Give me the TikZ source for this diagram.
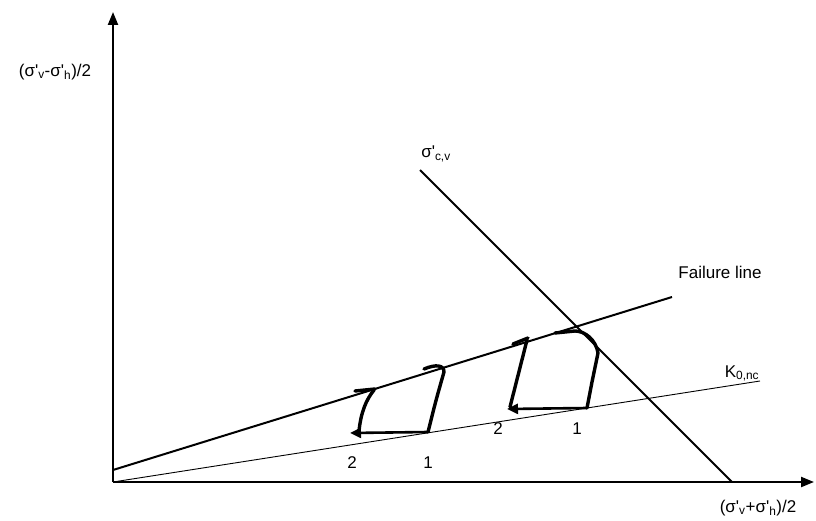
\documentclass[tikz,border=0pt]{standalone}
\usepackage{fontspec}
\setmainfont{Liberation Sans}
\usetikzlibrary{arrows.meta, positioning}
\newcommand{\sig}{σ\textquotesingle}

\begin{document}
\begin{tikzpicture}[
    x=1pt, y=-1pt,
    axis/.style={line width=2.2pt, -{Triangle[length=13pt, width=10pt]}},
    envelope/.style={line width=2pt},
    kline/.style={line width=0.9pt},
    stresspath/.style={line width=3.4pt, line cap=round, line join=round},
    pathtip/.style={line width=2.6pt, -{Triangle[length=11pt, width=10pt]}},
    lbl/.style={font=\fontsize{17}{20}\selectfont, inner sep=0pt}
]
    \useasboundingbox (0,0) rectangle (816,521);

    % Axes
    \coordinate (O) at (113,482);
    \coordinate (ytip) at (113,12);
    \coordinate (xtip) at (814,482);
    \draw[axis] (O) -- (ytip);
    \draw[axis] (O) -- (xtip);
    \node[lbl] (ylab) at (55,72) {(\sig\textsubscript{v}-\sig\textsubscript{h})/2};
    \node[lbl] (xlab) at (758,508) {(\sig\textsubscript{v}+\sig\textsubscript{h})/2};

    % Failure line, K0 line and preconsolidation line
    \coordinate (f0) at (113,470);
    \coordinate (f1) at (672,297);
    \draw[envelope] (f0) -- (f1);
    \node[lbl, anchor=south] (flab) at (720,279) {Failure line};

    \coordinate (k1) at (760,381);
    \draw[kline] (O) -- (k1);
    \node[lbl, anchor=base] (klab) at (742,377) {K\textsubscript{0,nc}};

    \coordinate (c0) at (420,170);
    \coordinate (c1) at (732,482);
    \draw[envelope] (c0) -- (c1);
    \node[lbl] (clab) at (436,154) {\sig\textsubscript{c,v}};

    % Left stress paths
    \coordinate (a1) at (428,432);
    \coordinate (a2) at (350,433);
    \draw[pathtip] (a1) -- (a2);
    \draw[stresspath] (a1) .. controls (436,400) .. (444,372)
        .. controls (444,365) and (436,364) .. (424,369);
    \draw[stresspath] (359,431) .. controls (361,412) and (366,400) .. (374,390);
    \draw[stresspath] (355,391) -- (375,389);
    \node[lbl] (lab1a) at (428,463) {1};
    \node[lbl] (lab2a) at (352,463) {2};

    % Right stress paths
    \coordinate (b1) at (587,408);
    \coordinate (b2) at (507,409);
    \draw[pathtip] (b1) -- (b2);
    \draw[stresspath] (b1) -- (592,382) -- (598,353)
        .. controls (596,340) and (585,331) .. (575,331) -- (555,333);
    \draw[stresspath] (510,407) -- (527,340);
    \draw[stresspath] (513,344) -- (528,338);
    \node[lbl] (lab1b) at (577,429) {1};
    \node[lbl] (lab2b) at (498,429) {2};
\end{tikzpicture}
\end{document}
